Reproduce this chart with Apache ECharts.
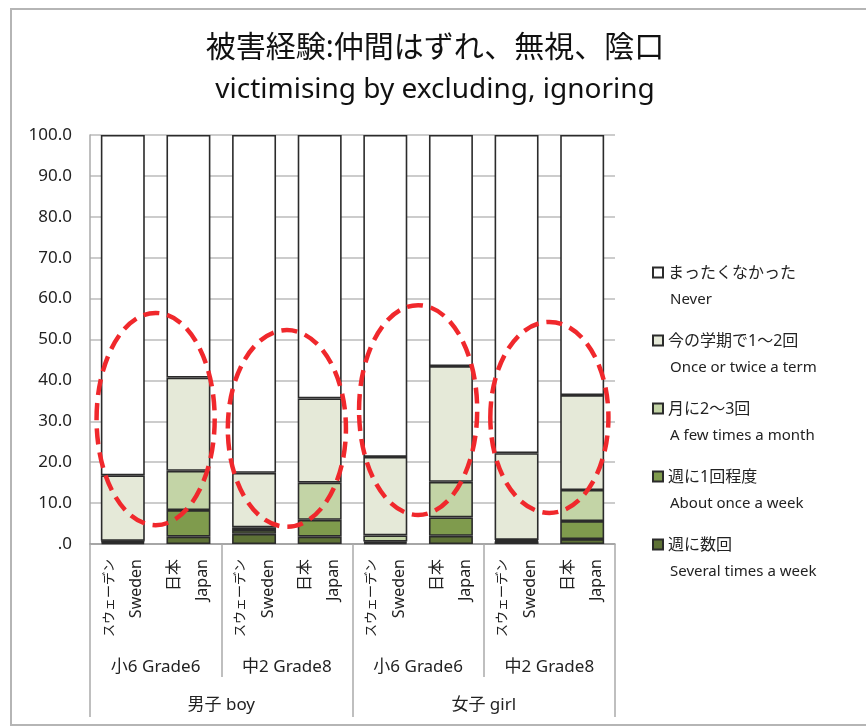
<!DOCTYPE html>
<html>
<head>
<meta charset="utf-8">
<script src="https://cdn.jsdelivr.net/npm/echarts@6/dist/echarts.min.js"></script>
<style>
  html, body { margin: 0; padding: 0; background: #fff; }
  #chart { width: 866px; height: 727px; }
</style>
</head>
<body>
<div id="chart"></div>
<script>
// bars: boy G6 (SE, JP), boy G8 (SE, JP), girl G6 (SE, JP), girl G8 (SE, JP)
var countryJp = ['スウェーデン', '日本', 'スウェーデン', '日本', 'スウェーデン', '日本', 'スウェーデン', '日本'];
var countryEn = ['Sweden', 'Japan', 'Sweden', 'Japan', 'Sweden', 'Japan', 'Sweden', 'Japan'];
var grades = ['小6 Grade6', '中2 Grade8', '小6 Grade6', '中2 Grade8'];
var sexes = ['男子 boy', '女子 girl'];

// stacked from the bottom up (%)
var several = [0.3, 1.8, 2.5, 1.8, 0.3, 2.0, 0.6, 1.2];
var weekly = [0.3, 6.5, 0.9, 4.1, 0.3, 4.5, 0.2, 4.4];
var monthly = [0.2, 9.6, 0.7, 9.1, 1.5, 8.7, 0.2, 7.6];
var termly = [16.0, 22.8, 13.3, 20.6, 19.2, 28.3, 21.2, 23.2];
var never = [83.2, 59.3, 82.6, 64.4, 78.7, 56.5, 77.8, 63.6];

var seriesJp = ['週に数回', '週に1回程度', '月に2～3回', '今の学期で1～2回', 'まったくなかった'];
var seriesEn = ['Several times a week', 'About once a week', 'A few times a month', 'Once or twice a term', 'Never'];
var seriesData = [several, weekly, monthly, termly, never];
var colors = ['#5e7236', '#7f9b4d', '#c3d4a6', '#e5e9d8', '#ffffff'];

var yTicks = [0, 10, 20, 30, 40, 50, 60, 70, 80, 90, 100];

// red dashed rings round each Sweden/Japan pair (annotation)
var ringCat = [0, 2, 4, 6];
var ringTop = [56.5, 52.3, 58.4, 54.3];
var ringBottom = [4.6, 4.2, 7.1, 7.6];

var font = '"Noto Sans", "Noto Sans CJK JP", sans-serif';
var chart = echarts.init(document.getElementById('chart'));

// long katakana names are set smaller than the two-kanji one, as in the original
var cats = countryJp.map(function (c, i) {
  var key = c.length > 2 ? 'a' : 'c';
  return '{' + key + '|' + c + '}\n{b|' + countryEn[i] + '}';
});

var series = seriesData.map(function (d, i) {
  return {
    name: seriesJp[i],
    type: 'bar',
    stack: 'all',
    data: d,
    barCategoryGap: '33%',
    itemStyle: { color: colors[i], borderColor: '#2b2b2b', borderWidth: 1.6 },
    emphasis: { disabled: true }
  };
});

var option = {
  animation: false,
  backgroundColor: '#fff',
  title: {
    text: '被害経験:仲間はずれ、無視、陰口',
    subtext: 'victimising by excluding, ignoring',
    left: 430,
    textAlign: 'center',
    top: 28,
    itemGap: 13,
    textStyle: { fontFamily: font, fontSize: 30, fontWeight: 'normal', color: '#111' },
    subtextStyle: { fontFamily: font, fontSize: 28, color: '#111' }
  },
  grid: { left: 90, right: 251, top: 135, bottom: 183 },
  legend: {
    orient: 'vertical',
    left: 647,
    top: 260,
    itemGap: 25.5,
    itemWidth: 10,
    itemHeight: 38,
    icon: 'path://M0,0L10,0L10,10L0,10Z M0,38',
    data: seriesJp.slice().reverse(),
    selectedMode: false,
    formatter: function (name) {
      var i = seriesJp.indexOf(name);
      return '{a|' + name + '}\n{b|' + seriesEn[i] + '}';
    },
    textStyle: {
      fontFamily: font,
      color: '#222',
      rich: {
        a: { fontSize: 16, lineHeight: 27, fontFamily: font, color: '#222' },
        b: { fontSize: 15, lineHeight: 27, fontFamily: font, color: '#222', padding: [0, 0, 0, 2] }
      }
    }
  },
  xAxis: [
    {
      type: 'category',
      data: cats,
      axisLine: { lineStyle: { color: '#999', width: 1.5 } },
      axisTick: { show: false },
      axisLabel: {
        interval: 0,
        rotate: 90,
        margin: 15,
        fontFamily: font,
        color: '#222',
        rich: {
          a: { fontSize: 13, lineHeight: 28, fontFamily: font, color: '#222' },
          c: { fontSize: 16, lineHeight: 28, fontFamily: font, color: '#222' },
          b: { fontSize: 16, lineHeight: 28, fontFamily: font, color: '#222' }
        }
      }
    },
    {
      type: 'category',
      data: grades,
      position: 'bottom',
      axisLine: { show: false },
      axisTick: { show: true, length: 133, lineStyle: { color: '#aaa', width: 1.5 } },
      axisLabel: { interval: 0, margin: 115, fontFamily: font, fontSize: 17, color: '#222' }
    },
    {
      type: 'category',
      data: sexes,
      position: 'bottom',
      axisLine: { show: false },
      axisTick: { show: true, length: 173, lineStyle: { color: '#aaa', width: 1.5 } },
      axisLabel: { interval: 0, margin: 153, fontFamily: font, fontSize: 17, color: '#222' }
    }
  ],
  yAxis: {
    type: 'value',
    min: yTicks[0],
    max: yTicks[yTicks.length - 1],
    interval: 10,
    axisLine: { show: true, lineStyle: { color: '#aaa', width: 1.5 } },
    axisTick: { show: false },
    splitLine: { lineStyle: { color: '#bbb', width: 1.5 } },
    axisLabel: {
      margin: 18,
      fontFamily: font,
      fontSize: 17,
      color: '#222',
      formatter: function (v) { return v === 0 ? '.0' : v.toFixed(1); }
    }
  },
  series: series
};

chart.setOption(option);

// rings placed through the chart's own scales, centred between the two bars of a pair
var rings = ringCat.map(function (c, i) {
  var a = chart.convertToPixel({ xAxisIndex: 0, yAxisIndex: 0 }, [c, ringTop[i]]);
  var b = chart.convertToPixel({ xAxisIndex: 0, yAxisIndex: 0 }, [c + 1, ringBottom[i]]);
  var step = b[0] - a[0];
  return {
    type: 'ellipse',
    silent: true,
    z: 100,
    shape: { cx: (a[0] + b[0]) / 2, cy: (a[1] + b[1]) / 2, rx: step * 0.9, ry: (b[1] - a[1]) / 2 },
    style: { fill: null, stroke: '#f0282c', lineWidth: 4.5, lineDash: [16, 8] }
  };
});

rings.push({
  type: 'rect',
  silent: true,
  shape: { x: 11, y: 9, width: 900, height: 716 },
  style: { fill: null, stroke: '#b5b5b5', lineWidth: 2 }
});

chart.setOption({ graphic: rings });
</script>
</body>
</html>
